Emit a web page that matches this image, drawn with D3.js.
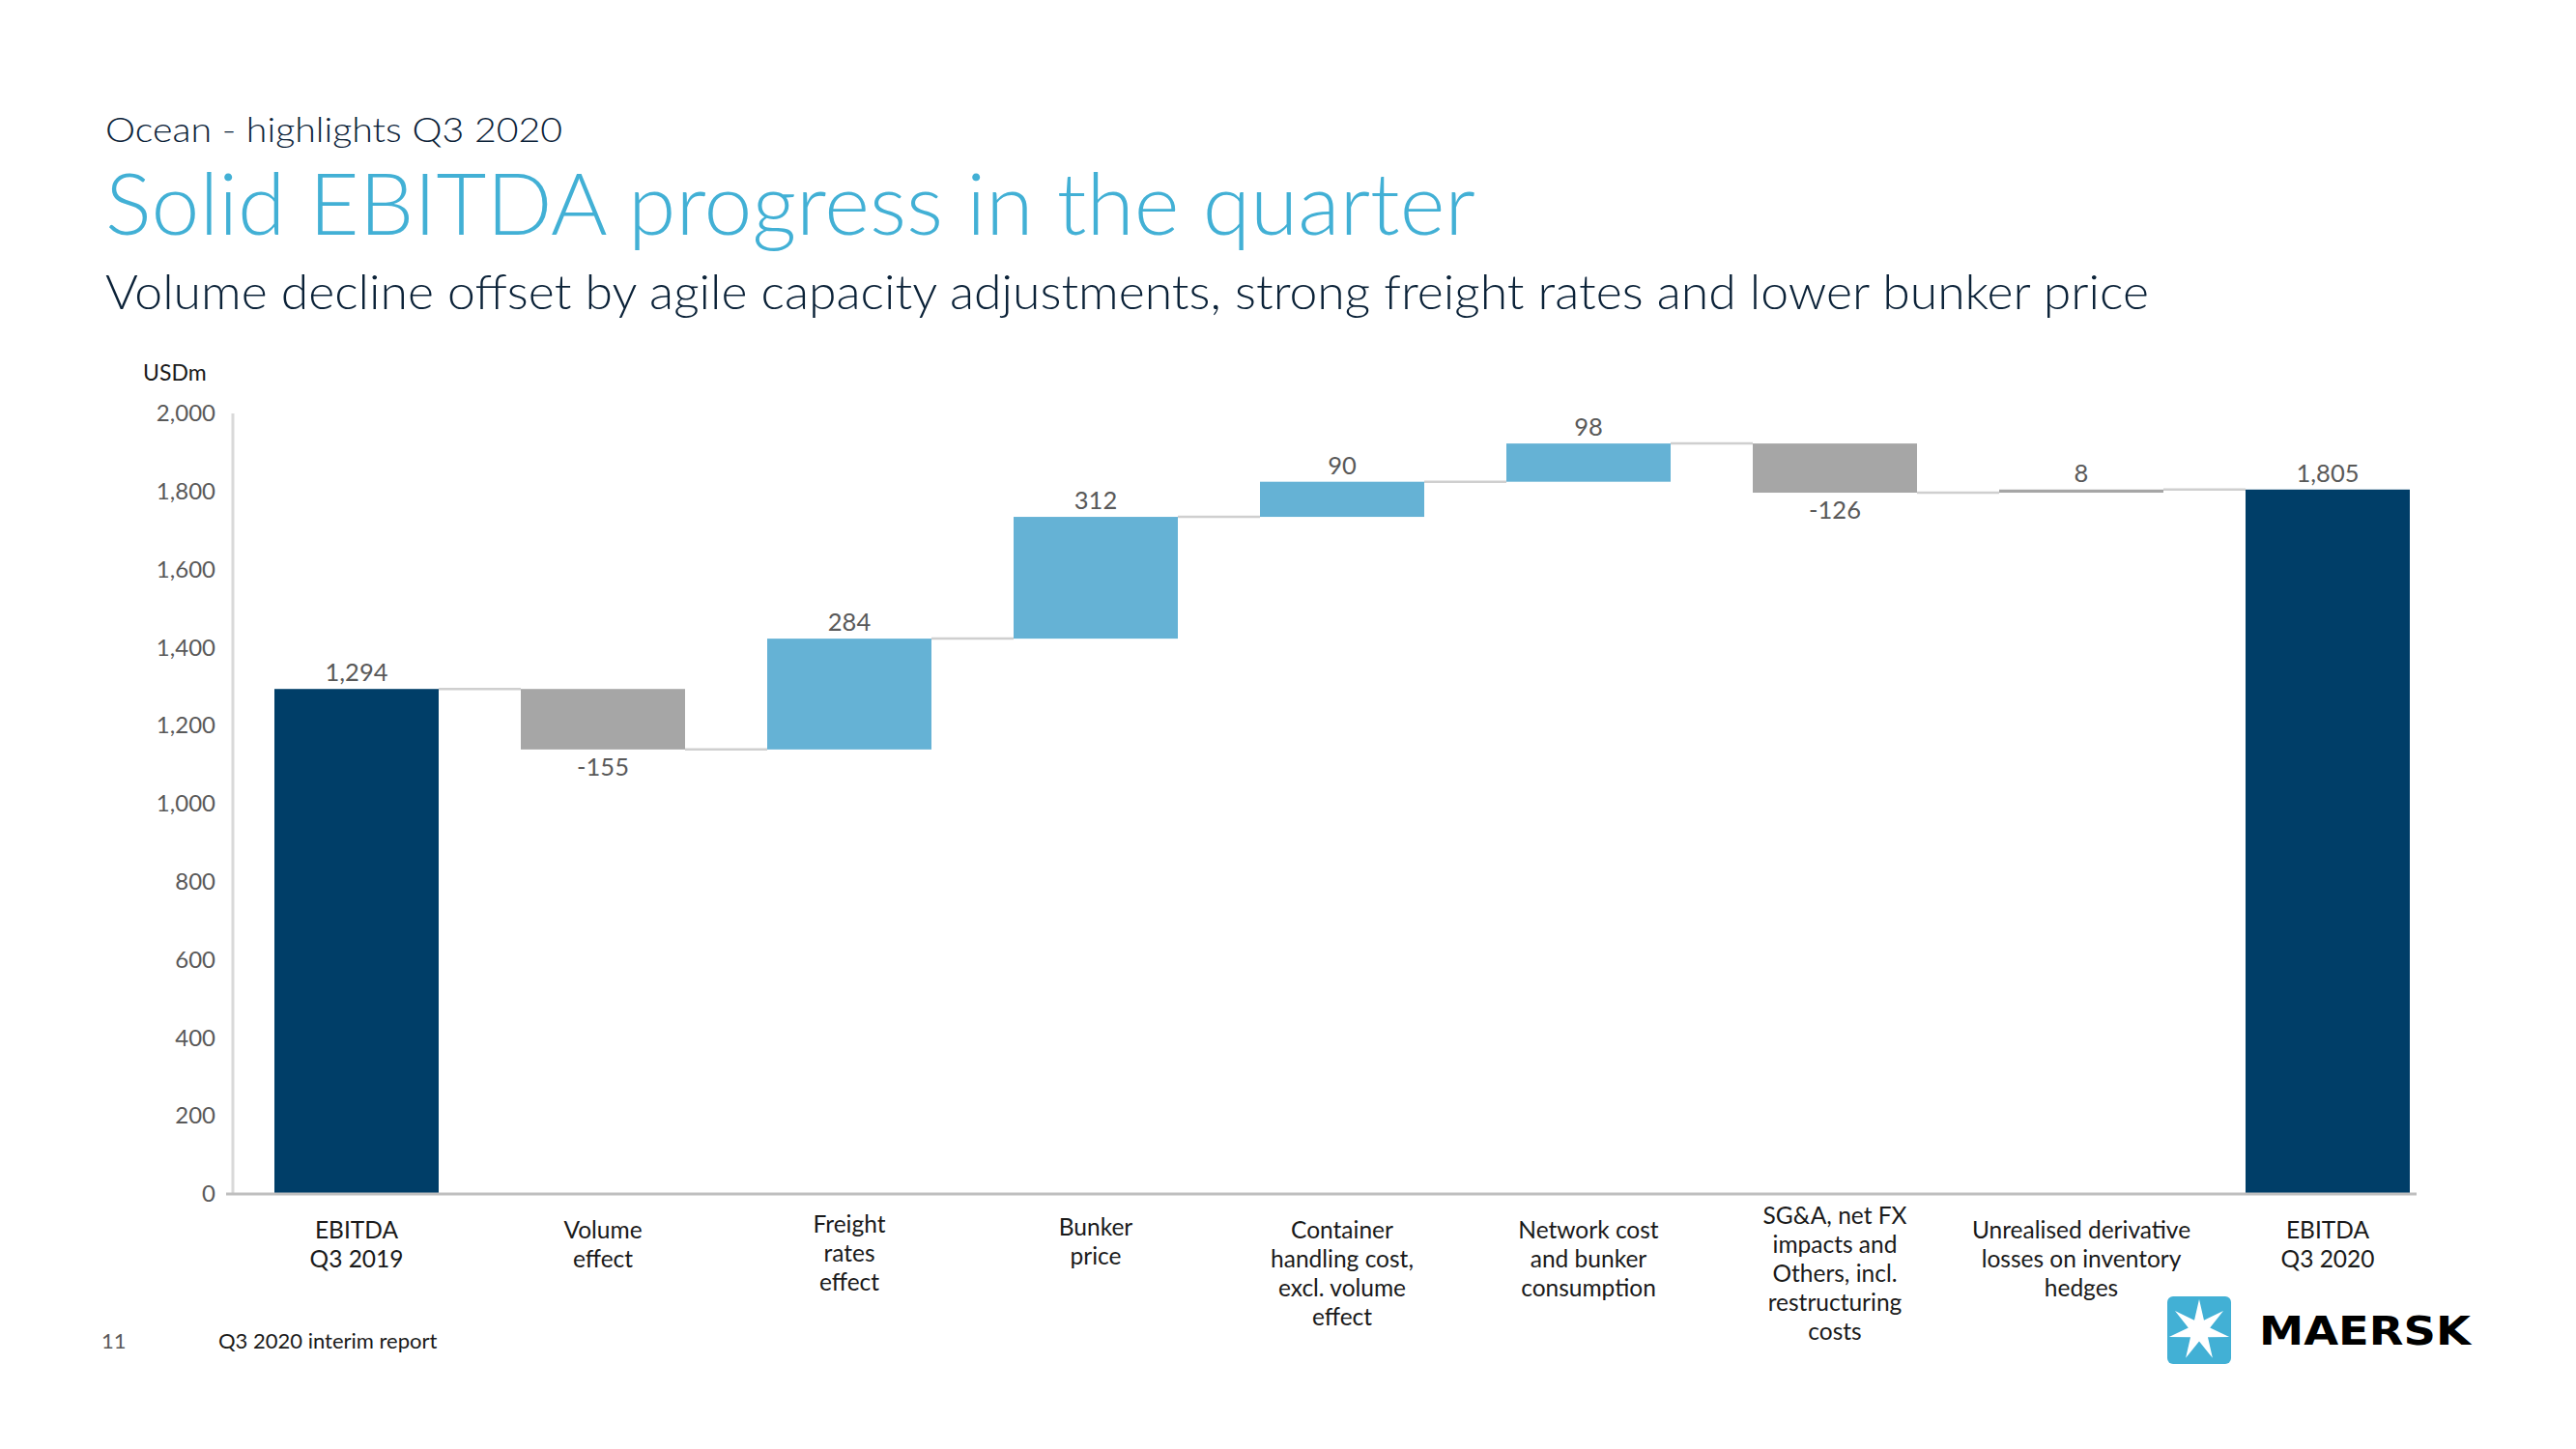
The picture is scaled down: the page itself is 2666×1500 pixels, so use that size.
<!DOCTYPE html>
<html>
<head>
<meta charset="utf-8">
<script src="https://cdn.jsdelivr.net/npm/d3@7"></script>
<style>
  html, body { margin: 0; padding: 0; background: #ffffff; }
  svg { display: block; }
</style>
</head>
<body>
<svg id="chart" width="2666" height="1500"></svg>
<script>
// ---------------- data ----------------
const categories = [
  ["EBITDA", "Q3 2019"],
  ["Volume", "effect"],
  ["Freight", "rates", "effect"],
  ["Bunker", "price"],
  ["Container", "handling cost,", "excl. volume", "effect"],
  ["Network cost", "and bunker", "consumption"],
  ["SG&A, net FX", "impacts and", "Others, incl.", "restructuring", "costs"],
  ["Unrealised derivative", "losses on inventory", "hedges"],
  ["EBITDA", "Q3 2020"]
];
const values = [1294, -155, 284, 312, 90, 98, -126, 8, 1805];
const barTypes = ["total", "delta", "delta", "delta", "delta", "delta", "delta", "delta", "total"];
const valueLabels = ["1,294", "-155", "284", "312", "90", "98", "-126", "8", "1,805"];
const yTicks = [0, 200, 400, 600, 800, 1000, 1200, 1400, 1600, 1800, 2000];
const yTickLabels = ["0", "200", "400", "600", "800", "1,000", "1,200", "1,400", "1,600", "1,800", "2,000"];

// ---------------- style / layout ----------------
const barColorKey = ["total", "down", "up", "up", "up", "up", "down", "down", "total"];
const colors = { total: "#003e68", up: "#65b2d5", down: "#a6a6a6" };
const labelFirstBaseline = [1282, 1282, 1276, 1279, 1282, 1282, 1267, 1282, 1282];
const FONT = "Lato, 'Open Sans', sans-serif";

const svg = d3.select("#chart");

// Header
svg.append("text").attr("x", 109).attr("y", 147)
  .attr("font-family", FONT).attr("font-weight", 300).attr("font-size", 36).attr("fill", "#0b2238")
  .attr("textLength", 473).attr("lengthAdjust", "spacingAndGlyphs")
  .text("Ocean - highlights Q3 2020");
svg.append("text").attr("x", 109).attr("y", 243)
  .attr("font-family", FONT).attr("font-weight", 300).attr("font-size", 88).attr("fill", "#42b0d5")
  .attr("textLength", 1418).attr("lengthAdjust", "spacingAndGlyphs")
  .text("Solid EBITDA progress in the quarter");
svg.append("text").attr("x", 109).attr("y", 320)
  .attr("font-family", FONT).attr("font-weight", 300).attr("font-size", 49).attr("fill", "#0b2238")
  .attr("textLength", 2115).attr("lengthAdjust", "spacingAndGlyphs")
  .text("Volume decline offset by agile capacity adjustments, strong freight rates and lower bunker price");

// Scales
const x = d3.scaleBand()
  .domain(d3.range(categories.length))
  .range([241.5, 2536.5])
  .paddingInner(1 / 3)
  .paddingOuter(1 / 6);
const y = d3.scaleLinear().domain([0, 2000]).range([1236, 428]);
const bw = x.bandwidth();

// Compute waterfall segments
let running = 0;
const bars = values.map((v, i) => {
  let start, end;
  if (barTypes[i] === "total") { start = 0; end = v; running = v; }
  else { start = running; end = running + v; running = end; }
  return { i, v, start, end, lo: Math.min(start, end), hi: Math.max(start, end) };
});

// Y axis (labels only, custom line)
const yAxis = d3.axisLeft(y).tickValues(yTicks)
  .tickFormat((d, i) => yTickLabels[i]).tickSize(0).tickPadding(18);
const yg = svg.append("g").attr("transform", "translate(241,0)").call(yAxis);
yg.select(".domain").remove();
yg.selectAll("text").attr("font-family", FONT).attr("font-size", 24).attr("fill", "#595959");

svg.append("line").attr("x1", 241).attr("x2", 241).attr("y1", y(2000)).attr("y2", y(0))
  .attr("stroke", "#d9d9d9").attr("stroke-width", 3);

svg.append("text").attr("x", 148).attr("y", 394)
  .attr("font-family", FONT).attr("font-size", 23).attr("fill", "#1a1a1a").text("USDm");

// Connectors
const conns = bars.slice(0, -1).map((b, i) => ({ level: b.end, x1: x(i) + bw, x2: x(i + 1) }));
svg.append("g").selectAll("line").data(conns).join("line")
  .attr("x1", d => d.x1).attr("x2", d => d.x2)
  .attr("y1", d => y(d.level)).attr("y2", d => y(d.level))
  .attr("stroke", "#cfcfcf").attr("stroke-width", 2.5);

// Bars
svg.append("g").selectAll("rect").data(bars).join("rect")
  .attr("x", d => x(d.i)).attr("width", bw)
  .attr("y", d => y(d.hi)).attr("height", d => Math.max(1.5, y(d.lo) - y(d.hi)))
  .attr("fill", d => colors[barColorKey[d.i]]);

// X axis line
svg.append("line").attr("x1", 234).attr("x2", 2501).attr("y1", y(0)).attr("y2", y(0))
  .attr("stroke", "#bfbfbf").attr("stroke-width", 3);

// Value labels
svg.append("g").selectAll("text").data(bars).join("text")
  .attr("x", d => x(d.i) + bw / 2)
  .attr("y", d => (barTypes[d.i] === "delta" && d.v < 0) ? y(d.lo) + 27 : y(d.hi) - 8)
  .attr("text-anchor", "middle")
  .attr("font-family", FONT).attr("font-size", 25.5).attr("fill", "#595959")
  .text(d => valueLabels[d.i]);

// Category labels
const cat = svg.append("g").selectAll("text").data(categories).join("text")
  .attr("x", (d, i) => x(i) + bw / 2)
  .attr("y", (d, i) => labelFirstBaseline[i])
  .attr("text-anchor", "middle")
  .attr("font-family", FONT).attr("font-size", 24.5).attr("fill", "#1a1a1a");
cat.selectAll("tspan").data(d => d).join("tspan")
  .attr("x", function () { return d3.select(this.parentNode).attr("x"); })
  .attr("dy", (d, j) => j === 0 ? 0 : 30)
  .text(d => d);

// Footer
svg.append("text").attr("x", 105).attr("y", 1396)
  .attr("font-family", FONT).attr("font-size", 22).attr("fill", "#595959").text("11");
svg.append("text").attr("x", 226).attr("y", 1396)
  .attr("font-family", FONT).attr("font-size", 22).attr("fill", "#1a1a1a").text("Q3 2020 interim report");

// Maersk logo
const logo = svg.append("g");
logo.append("rect").attr("x", 2243).attr("y", 1342).attr("width", 66).attr("height", 70)
  .attr("rx", 6).attr("fill", "#42b0d5");
const cx = 2276, cy = 1377, R = 32, r = 11.5;
const pts = d3.range(14).map(k => {
  const a = -Math.PI / 2 + k * Math.PI / 7;
  const rad = k % 2 === 0 ? R : r;
  return [cx + rad * Math.cos(a), cy + rad * Math.sin(a)];
});
logo.append("polygon").attr("points", pts.map(p => p.join(",")).join(" ")).attr("fill", "#ffffff");
logo.append("text").attr("x", 2338).attr("y", 1392)
  .attr("font-family", "'DejaVu Sans', sans-serif").attr("font-weight", "bold")
  .attr("font-size", 41).attr("fill", "#000000")
  .attr("textLength", 219).attr("lengthAdjust", "spacingAndGlyphs")
  .text("MAERSK");
</script>
</body>
</html>
